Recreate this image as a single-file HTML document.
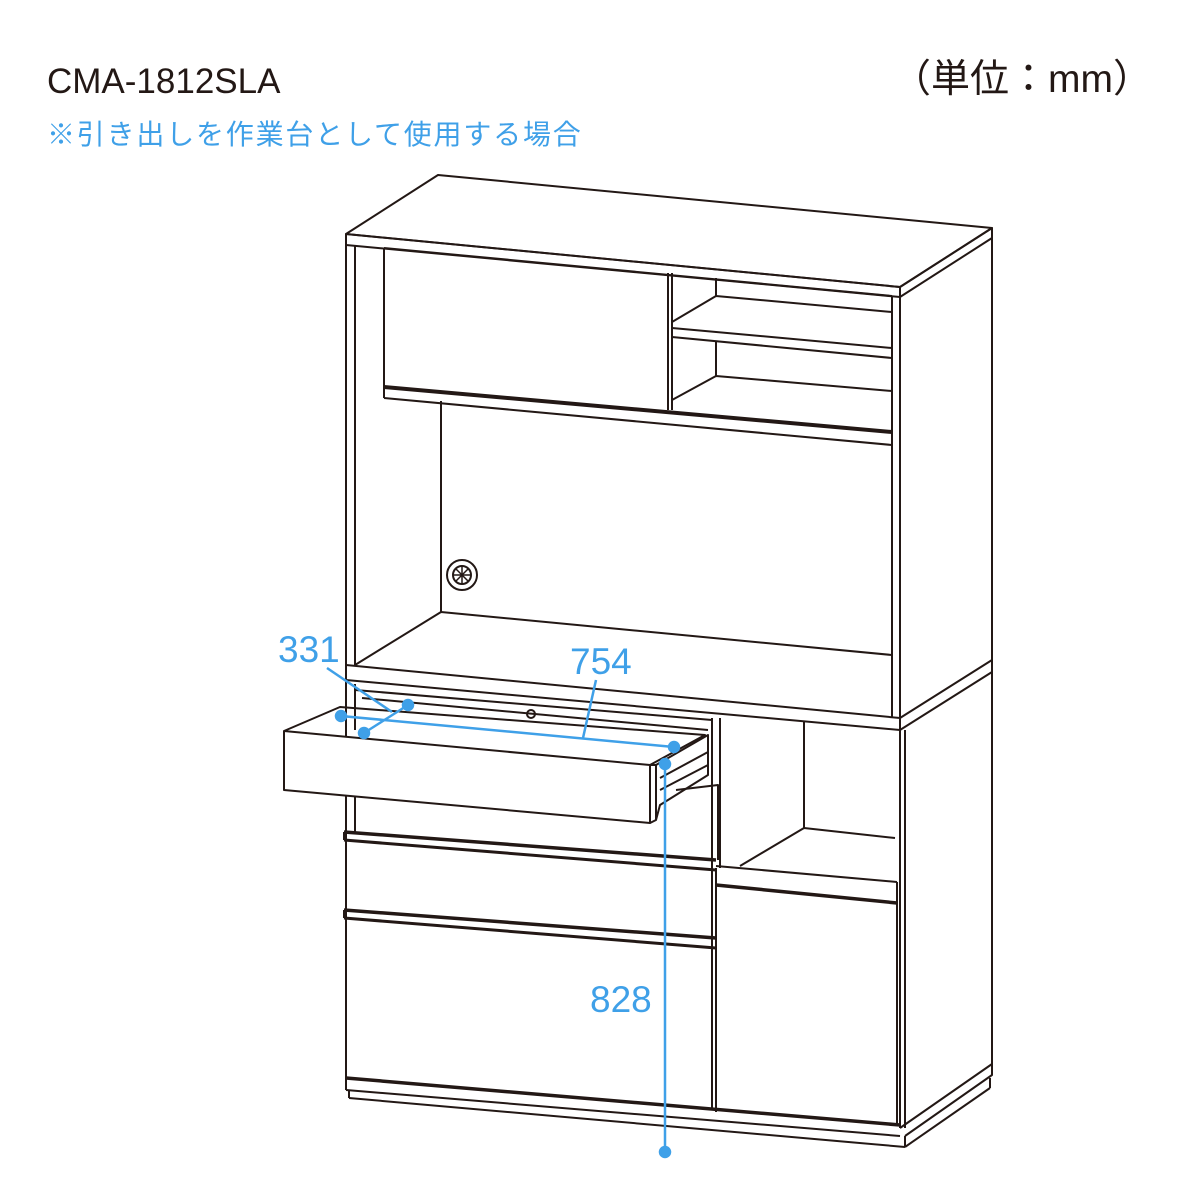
<!DOCTYPE html>
<html><head><meta charset="utf-8"><style>
html,body{margin:0;padding:0;background:#fff;}
svg{display:block;}
</style></head><body>
<svg width="1200" height="1200" viewBox="0 0 1200 1200" xmlns="http://www.w3.org/2000/svg">
<rect width="1200" height="1200" fill="#fff"/>
<text x="47" y="93" font-family="Liberation Sans, sans-serif" font-size="35" fill="#231815">CMA-1812SLA</text>
<text x="1152" y="92" text-anchor="end" font-family="Liberation Sans, 'Noto Sans CJK JP', sans-serif" font-size="39" fill="#231815">（単位：mm）</text>
<text x="47" y="144" font-family="Liberation Sans, 'Noto Sans CJK JP', sans-serif" font-size="28" letter-spacing="1.8" fill="#3fa0e8">※引き出しを作業台として使用する場合</text>

<g fill="none" stroke="#231815" stroke-width="2" stroke-linejoin="round">
<polygon points="346,234 438,175 992,228 900,287" fill="#fff"/>
<polygon points="346,234 900,287 900,297 346,245"/>
<polygon points="900,287 992,228 992,238 900,297"/>
<line x1="346" y1="245" x2="346" y2="665"/>
<line x1="355" y1="245" x2="355" y2="665"/>
<line x1="892" y1="296" x2="892" y2="718"/>
<line x1="900" y1="297" x2="900" y2="718"/>
<line x1="992" y1="238" x2="992" y2="660"/>
<polyline points="384,248 384,385"/>
<line x1="384" y1="248" x2="892" y2="296"/>
<line x1="384" y1="398" x2="892" y2="445"/>
<line x1="384" y1="385" x2="384" y2="398"/>
<line x1="384" y1="387" x2="892" y2="432" stroke-width="4"/>
<line x1="668" y1="273" x2="668" y2="410"/>
<line x1="672" y1="273" x2="672" y2="410"/>
<line x1="716" y1="278" x2="716" y2="296"/>
<polyline points="672,322 716,296 892,312"/>
<line x1="672" y1="328" x2="892" y2="348"/>
<line x1="672" y1="337" x2="892" y2="358"/>
<line x1="716" y1="341" x2="716" y2="376"/>
<polyline points="672,400 716,376 892,391"/>
<line x1="441" y1="401" x2="441" y2="612"/>
<polyline points="355,665 441,612 892,655"/>
<circle cx="462" cy="575" r="15"/>
<circle cx="462" cy="575" r="9"/>
<g stroke-width="1.5">
<line x1="453" y1="575" x2="471" y2="575"/><line x1="462" y1="566" x2="462" y2="584"/>
<line x1="456" y1="569" x2="468" y2="581"/><line x1="468" y1="569" x2="456" y2="581"/>
</g>
<polygon points="346,665 900,718 992,660 992,672 900,730 346,680"/>
<line x1="900" y1="718" x2="900" y2="730"/>
<line x1="346" y1="680" x2="346" y2="1090"/>
<line x1="355" y1="684" x2="355" y2="730"/>
<line x1="355" y1="790" x2="355" y2="832"/>
<line x1="900" y1="730" x2="900" y2="1128"/>
<line x1="905" y1="730" x2="905" y2="1128"/>
<line x1="992" y1="672" x2="992" y2="1075"/>
<line x1="355" y1="690" x2="712" y2="720"/>
<line x1="362" y1="698" x2="708" y2="730"/>
<circle cx="531" cy="714" r="4"/>
<polygon points="284,731 650,765 650,823 284,790" fill="#fff"/>
<polyline points="284,731 340,707 705,735 650,765"/>
<polyline points="650,765 656,765 708,735 708,775 660,805 656,820 650,823"/>
<line x1="656" y1="765" x2="656" y2="820"/>
<line x1="660" y1="778" x2="708" y2="752"/>
<line x1="660" y1="790" x2="708" y2="765"/>
<polyline points="676,790 718,785 718,860"/>
<line x1="712" y1="718" x2="712" y2="1110"/>
<line x1="720" y1="718" x2="720" y2="868"/>
<line x1="804" y1="722" x2="804" y2="828"/>
<polyline points="740,866 804,828 895,838"/>
<line x1="716" y1="866" x2="897" y2="882"/>
<line x1="716" y1="885" x2="897" y2="903" stroke-width="3.5"/>
<line x1="716" y1="868" x2="716" y2="1112"/>
<line x1="897" y1="882" x2="897" y2="1125"/>
<!-- drawer handles -->
<line x1="344" y1="832" x2="716" y2="860" stroke-width="3.5"/>
<line x1="344" y1="840" x2="716" y2="870" stroke-width="3"/>
<line x1="344" y1="832" x2="344" y2="840"/>
<line x1="344" y1="910" x2="716" y2="938" stroke-width="3.5"/>
<line x1="344" y1="918" x2="716" y2="948" stroke-width="3"/>
<line x1="344" y1="910" x2="344" y2="918"/>
<line x1="346" y1="1078" x2="900" y2="1125" stroke-width="3.5"/>
<line x1="346" y1="1090" x2="900" y2="1136"/>
<line x1="349" y1="1098" x2="905" y2="1147"/>
<line x1="349" y1="1090" x2="349" y2="1098"/>
<line x1="905" y1="1136" x2="905" y2="1147"/>
<polyline points="900,1128 992,1064 992,1075 905,1136"/>
<line x1="905" y1="1147" x2="990" y2="1088"/>
<line x1="990" y1="1078" x2="990" y2="1088"/>
</g>

<g stroke="#3fa0e8" stroke-width="2.5" fill="#3fa0e8">
<line x1="341" y1="716" x2="674" y2="747"/>
<line x1="596" y1="680" x2="583" y2="738"/>
<line x1="327" y1="668" x2="392" y2="712"/>
<line x1="408" y1="705" x2="364" y2="733"/>
<line x1="665" y1="764" x2="665" y2="1152"/>
<circle cx="341" cy="716" r="5"/>
<circle cx="674" cy="747" r="5"/>
<circle cx="408" cy="705" r="5"/>
<circle cx="364" cy="733" r="5"/>
<circle cx="665" cy="764" r="5"/>
<circle cx="665" cy="1152" r="5"/>
</g>
<g font-family="Liberation Sans, sans-serif" font-size="37" fill="#3fa0e8">
<text x="278" y="662">331</text>
<text x="570" y="674">754</text>
<text x="590" y="1012">828</text>
</g>
</svg>
</body></html>
